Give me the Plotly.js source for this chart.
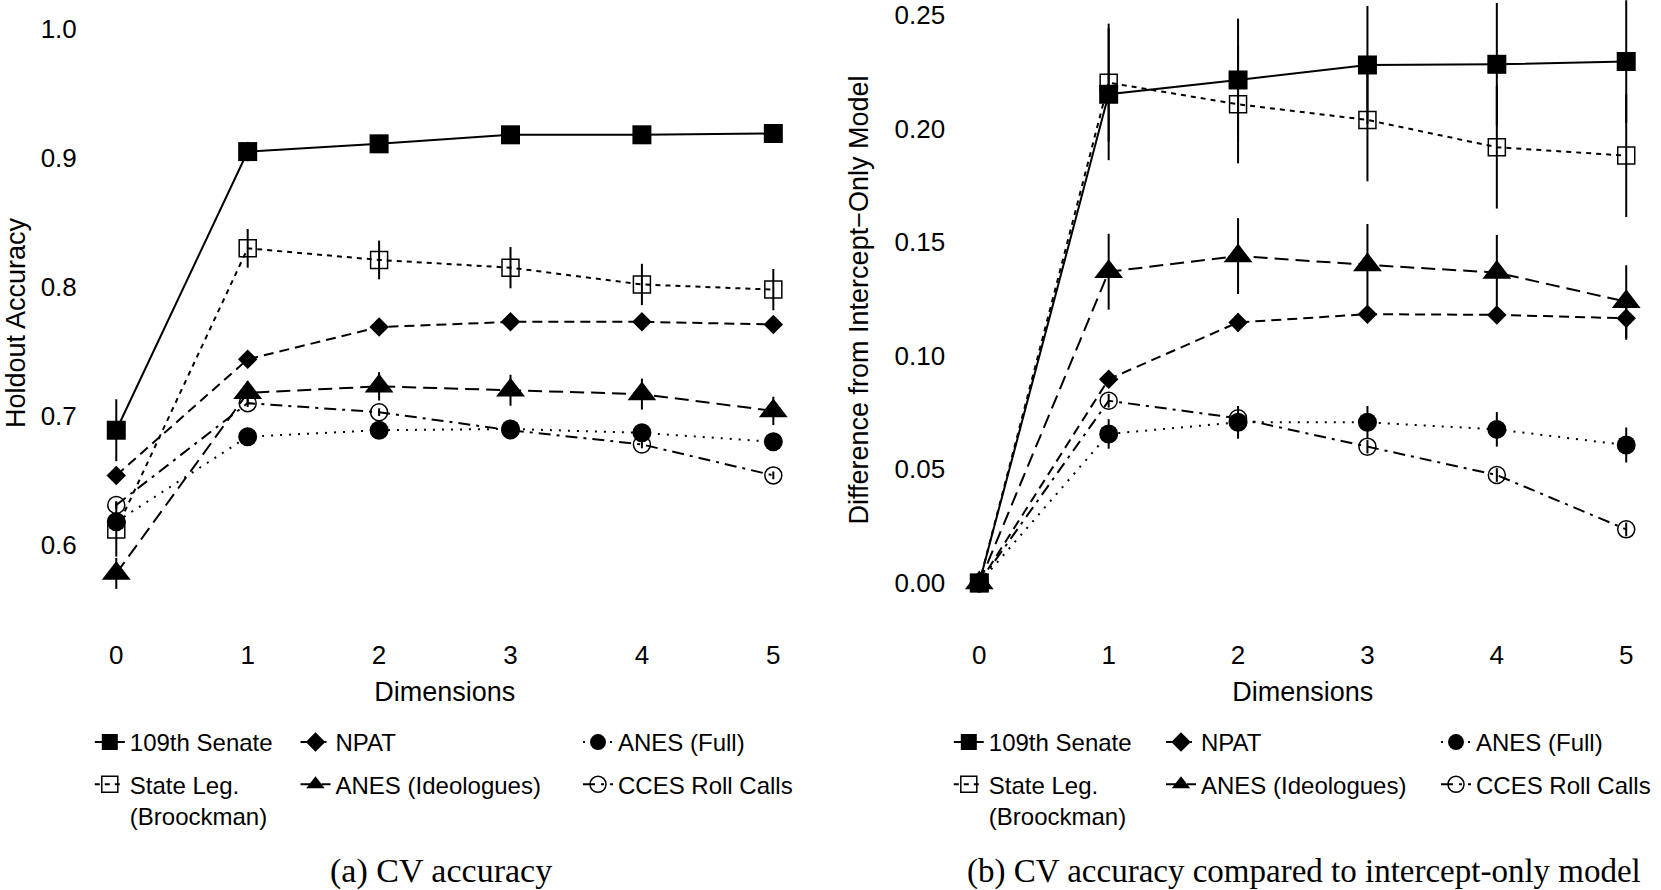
<!DOCTYPE html>
<html>
<head>
<meta charset="utf-8">
<script src="https://cdn.plot.ly/plotly-3.0.1.min.js"></script>
<style>
  html, body { margin: 0; padding: 0; background: #ffffff; }
  #chart { width: 1661px; height: 890px; }
</style>
</head>
<body>
<div id="chart"></div>
<script>
// ---------- data ----------
const dims = [0, 1, 2, 3, 4, 5];
const seriesNames = ["109th Senate", "State Leg.<br>(Broockman)", "NPAT", "ANES (Ideologues)", "ANES (Full)", "CCES Roll Calls"];

// (a) holdout accuracy
const senateAcc    = [0.689, 0.905, 0.911, 0.918, 0.918, 0.919];
const senateAccErr = [0.024, 0.0075, 0.007, 0.004, 0.004, 0.004];
const stateAcc     = [0.612, 0.830, 0.821, 0.815, 0.802, 0.798];
const stateAccErr  = [0.021, 0.015, 0.015, 0.016, 0.016, 0.016];
const npatAcc      = [0.654, 0.744, 0.769, 0.773, 0.773, 0.771];
const npatAccErr   = [0.003, 0.003, 0.003, 0.003, 0.003, 0.003];
const ideoAcc      = [0.578, 0.718, 0.723, 0.720, 0.717, 0.704];
const ideoAccErr   = [0.012, 0.009, 0.011, 0.012, 0.012, 0.011];
const fullAcc      = [0.618, 0.684, 0.689, 0.690, 0.687, 0.680];
const fullAccErr   = [0.003, 0.003, 0.003, 0.003, 0.003, 0.003];
const ccesAcc      = [0.631, 0.710, 0.703, 0.689, 0.678, 0.654];
const ccesAccErr   = [0.003, 0.003, 0.003, 0.003, 0.003, 0.003];

// (b) difference from intercept-only model
const senateDiff    = [0, 0.2151, 0.2214, 0.2280, 0.2283, 0.2295];
const senateDiffErr = [0, 0.029, 0.027, 0.026, 0.027, 0.027];
const stateDiff     = [0, 0.2202, 0.2107, 0.2038, 0.1918, 0.1881];
const stateDiffErr  = [0, 0.026, 0.026, 0.027, 0.027, 0.027];
const npatDiff      = [0, 0.0897, 0.1147, 0.1183, 0.1180, 0.1165];
const npatDiffErr   = [0, 0.003, 0.004, 0.003, 0.003, 0.0095];
const ideoDiff      = [0, 0.1370, 0.1439, 0.1400, 0.1366, 0.1238];
const ideoDiffErr   = [0, 0.0167, 0.0167, 0.018, 0.0166, 0.016];
const fullDiff      = [0, 0.0656, 0.0707, 0.0707, 0.0676, 0.0607];
const fullDiffErr   = [0, 0.0065, 0.0072, 0.0072, 0.0076, 0.0077];
const ccesDiff      = [0, 0.0802, 0.0725, 0.0600, 0.0475, 0.0236];
const ccesDiffErr   = [0, 0.003, 0.003, 0.003, 0.003, 0.003];

const yTickVals1 = [0.6, 0.7, 0.8, 0.9, 1.0];
const yTickText1 = ["0.6", "0.7", "0.8", "0.9", "1.0"];
const yTickVals2 = [0, 0.05, 0.10, 0.15, 0.20, 0.25];
const yTickText2 = ["0.00", "0.05", "0.10", "0.15", "0.20", "0.25"];

// ---------- styles ----------
const SANS = "Liberation Sans, Arial, sans-serif";
const SERIF = "Liberation Serif, Times New Roman, serif";
const FS = 26;
const LFS = 24;
const styles = [
  { dash: "solid",            symbol: "square",        size: 19, lw: 0 },
  { dash: "5px,5px",          symbol: "square-open",   size: 17, lw: 1.5 },
  { dash: "10px,6px",         symbol: "diamond",       size: 15, lw: 0 },
  { dash: "14px,7px",         symbol: "triangle-up",   size: 25, lw: 0 },
  { dash: "2px,7px",          symbol: "circle",        size: 19, lw: 0 },
  { dash: "12px,6px,3px,6px", symbol: "circle-open",   size: 17, lw: 1.5 }
];
const legendCols = ["1", "1", "2", "2", "3", "3"];

function mk(i, y, err, panel) {
  const s = styles[i];
  const suffix = panel === 1 ? "" : "2";
  const legNum = panel === 1 ? Number(legendCols[i]) : Number(legendCols[i]) + 3;
  return {
    type: "scatter",
    mode: "lines+markers",
    name: seriesNames[i],
    x: dims,
    y: y,
    xaxis: "x" + suffix,
    yaxis: "y" + suffix,
    legend: legNum === 1 ? "legend" : "legend" + legNum,
    legendgroup: "g" + panel + "_" + i,
    showlegend: true,
    cliponaxis: true,
    line: { color: "#000000", width: 2, dash: s.dash },
    marker: { symbol: s.symbol, size: s.size, color: "#000000",
              line: { color: "#000000", width: s.lw } },
    error_y: { type: "data", array: err, visible: true, width: 0,
               thickness: 2, color: "#000000" }
  };
}

const data = [
  mk(0, senateAcc, senateAccErr, 1),
  mk(1, stateAcc, stateAccErr, 1),
  mk(2, npatAcc, npatAccErr, 1),
  mk(3, ideoAcc, ideoAccErr, 1),
  mk(4, fullAcc, fullAccErr, 1),
  mk(5, ccesAcc, ccesAccErr, 1),
  mk(0, senateDiff, senateDiffErr, 2),
  mk(1, stateDiff, stateDiffErr, 2),
  mk(2, npatDiff, npatDiffErr, 2),
  mk(3, ideoDiff, ideoDiffErr, 2),
  mk(4, fullDiff, fullDiffErr, 2),
  mk(5, ccesDiff, ccesDiffErr, 2)
];

// ---------- layout ----------
const W = 1661, H = 890, PH = 600;
const tickFont = { family: SANS, size: FS, color: "#000000" };
const titleFont = { family: SANS, size: 27, color: "#000000" };

function xAxis(domain, anchor) {
  return {
    domain: domain, range: [-0.2, 5.2], anchor: anchor,
    tickvals: dims, ticktext: dims.map(String),
    showgrid: false, zeroline: false, showline: false,
    ticks: "outside", ticklen: 32, tickcolor: "rgba(0,0,0,0)",
    tickfont: tickFont,
    title: { text: "Dimensions", font: titleFont, standoff: 12 },
    automargin: false
  };
}
function legendAt(pxTextLeft) {
  return {
    x: (pxTextLeft - 40) / W, xanchor: "left",
    y: (PH - 720) / PH, yanchor: "top",
    orientation: "v", valign: "top",
    font: { family: SANS, size: LFS, color: "#000000" },
    bgcolor: "rgba(0,0,0,0)", borderwidth: 0,
    tracegroupgap: 8, traceorder: "grouped"
  };
}

const layout = {
  width: W, height: H,
  margin: { l: 0, r: 0, t: 0, b: H - PH, pad: 0, autoexpand: false },
  paper_bgcolor: "#ffffff", plot_bgcolor: "#ffffff",
  font: { family: SANS, color: "#000000" },
  showlegend: true,
  xaxis: xAxis([90 / W, 799.6 / W], "y"),
  yaxis: {
    domain: [0, 1], range: [0.5574, 1.0225], anchor: "x",
    tickvals: yTickVals1, ticktext: yTickText1,
    showgrid: false, zeroline: false, showline: false,
    ticks: "outside", ticklen: 7, tickcolor: "rgba(0,0,0,0)",
    tickfont: tickFont,
    automargin: false
  },
  xaxis2: xAxis([953.4 / W, 1652.1 / W], "y2"),
  yaxis2: {
    domain: [0, 1], range: [-0.0075, 0.2566], anchor: "x2",
    tickvals: yTickVals2, ticktext: yTickText2,
    showgrid: false, zeroline: false, showline: false,
    ticks: "outside", ticklen: 2, tickcolor: "rgba(0,0,0,0)",
    tickfont: tickFont,
    title: { text: "Difference from Intercept\u2212Only Model", font: titleFont, standoff: 18 },
    automargin: false
  },
  legend: legendAt(129.8),
  legend2: legendAt(335.5),
  legend3: legendAt(618),
  legend4: legendAt(988.8),
  legend5: legendAt(1201),
  legend6: legendAt(1476),
  annotations: [
    { text: "Holdout Accuracy", xref: "paper", yref: "paper", textangle: -90,
      x: 16 / W, y: (PH - 323) / PH, xanchor: "center", yanchor: "middle",
      showarrow: false, font: titleFont },
    { text: "(a) CV accuracy", xref: "paper", yref: "paper",
      x: 441 / W, y: (PH - 871) / PH, xanchor: "center", yanchor: "middle",
      showarrow: false, font: { family: SERIF, size: 34, color: "#000000" } },
    { text: "(b) CV accuracy compared to intercept-only model", xref: "paper", yref: "paper",
      x: 1303.5 / W, y: (PH - 871) / PH, xanchor: "center", yanchor: "middle",
      showarrow: false, font: { family: SERIF, size: 33, color: "#000000" } }
  ]
};

Plotly.newPlot("chart", data, layout, { staticPlot: true, displayModeBar: false });
</script>
</body>
</html>
